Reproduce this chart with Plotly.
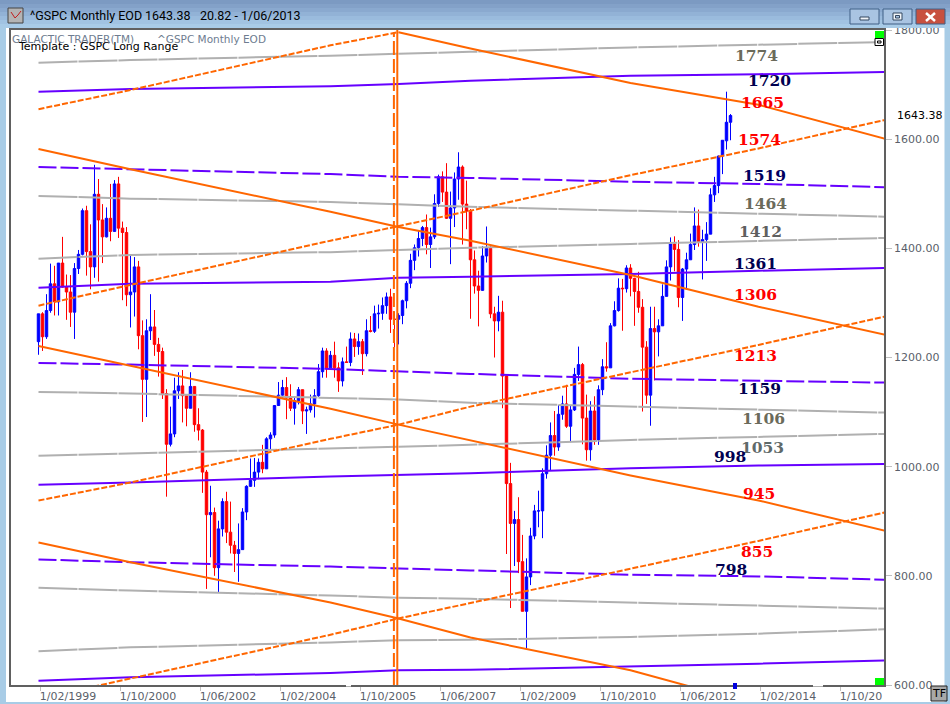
import plotly.graph_objects as go

W, H = 950, 704
L, T, R, B = 11, 30, 884, 685

# ---------- price bars (monthly, Jan 1999 .. Jun 2013) ----------
month_index = list(range(174))
opens = [1229,1280,1238,1286,1335,1302,1373,1329,1320,1283,1363,1389,
 1469,1394,1366,1499,1452,1421,1455,1431,1518,1437,1429,1315,
 1320,1366,1240,1160,1249,1256,1224,1211,1134,1041,1060,1139,
 1148,1130,1107,1147,1077,1067,990,912,916,815,886,936,
 880,856,841,848,917,964,975,990,1008,996,1051,1058,
 1112,1131,1145,1126,1107,1121,1141,1102,1104,1115,1130,1174,
 1212,1181,1204,1181,1157,1192,1191,1234,1220,1229,1207,1249,
 1248,1280,1281,1295,1311,1270,1270,1277,1304,1336,1378,1401,
 1418,1438,1407,1421,1482,1531,1503,1455,1474,1527,1549,1481,
 1468,1379,1331,1323,1386,1400,1280,1267,1283,1166,969,896,
 903,826,735,798,873,919,919,987,1021,1057,1036,1096,
 1115,1074,1104,1169,1187,1089,1031,1102,1049,1141,1183,1181,
 1258,1286,1327,1326,1364,1345,1321,1292,1219,1131,1253,1247,
 1258,1312,1366,1408,1398,1310,1362,1379,1407,1441,1412,1416,
 1426,1498,1515,1569,1597,1631]
highs = [1280,1283,1316,1372,1368,1373,1421,1352,1351,1373,1397,1473,
 1478,1444,1553,1527,1481,1475,1518,1525,1531,1449,1439,1389,
 1384,1377,1268,1270,1316,1287,1236,1218,1142,1110,1163,1173,
 1177,1131,1173,1147,1107,1069,994,965,925,901,942,954,
 936,864,896,924,966,1015,1016,1015,1040,1054,1063,1112,
 1155,1159,1164,1151,1128,1146,1141,1110,1132,1142,1188,1218,
 1217,1212,1229,1191,1200,1220,1246,1245,1244,1234,1270,1276,
 1295,1297,1310,1319,1326,1284,1281,1306,1340,1390,1407,1432,
 1441,1462,1438,1499,1535,1541,1556,1504,1539,1576,1552,1524,
 1472,1396,1359,1404,1440,1405,1293,1313,1304,1167,1007,919,
 944,875,832,888,930,956,997,1039,1081,1102,1113,1130,
 1150,1113,1181,1220,1190,1132,1120,1129,1149,1197,1228,1263,
 1303,1345,1344,1369,1371,1346,1357,1307,1230,1293,1293,1270,
 1334,1378,1420,1422,1415,1364,1392,1427,1475,1471,1434,1448,
 1510,1531,1570,1598,1687,1646]
lows = [1205,1212,1234,1282,1277,1277,1328,1269,1256,1234,1353,1387,
 1350,1325,1346,1339,1373,1420,1413,1431,1419,1305,1294,1255,
 1275,1215,1082,1091,1232,1203,1165,1124,945,1037,1054,1124,
 1081,1074,1107,1064,1048,952,776,834,800,769,872,860,
 841,807,789,848,902,963,963,977,988,996,1031,1053,
 1112,1124,1087,1102,1077,1114,1078,1060,1099,1090,1128,1163,
 1163,1181,1163,1137,1147,1191,1184,1201,1205,1168,1202,1246,
 1245,1253,1269,1280,1245,1219,1224,1261,1290,1327,1360,1385,
 1404,1389,1364,1417,1476,1485,1454,1371,1439,1489,1407,1435,
 1271,1317,1257,1324,1374,1272,1200,1248,1107,840,741,818,
 805,735,667,783,867,889,869,978,993,1020,1029,1086,
 1071,1045,1102,1157,1041,1011,1011,1040,1040,1131,1174,1181,
 1257,1284,1249,1319,1312,1258,1282,1101,1115,1075,1158,1202,
 1258,1312,1341,1358,1292,1267,1325,1379,1397,1403,1343,1377,
 1426,1485,1501,1536,1581,1598]
closes = [1280,1238,1286,1335,1302,1373,1329,1320,1283,1363,1389,1469,
 1394,1366,1499,1452,1421,1455,1431,1518,1437,1429,1315,1320,
 1366,1240,1160,1249,1256,1224,1211,1134,1041,1060,1139,1148,
 1130,1107,1147,1077,1067,990,912,916,815,886,936,880,
 856,841,848,917,964,975,990,1008,996,1051,1058,1112,
 1131,1145,1126,1107,1121,1141,1102,1104,1115,1130,1174,1212,
 1181,1204,1181,1157,1192,1191,1234,1220,1229,1207,1249,1248,
 1280,1281,1295,1311,1270,1270,1277,1304,1336,1378,1401,1418,
 1438,1407,1421,1482,1531,1503,1455,1474,1527,1549,1481,1468,
 1379,1331,1323,1386,1400,1280,1267,1283,1166,969,896,903,
 826,735,798,873,919,919,987,1021,1057,1036,1096,1115,
 1074,1104,1169,1187,1089,1031,1102,1049,1141,1183,1181,1258,
 1286,1327,1326,1364,1345,1321,1292,1219,1131,1253,1247,1258,
 1312,1366,1408,1398,1310,1362,1379,1407,1441,1412,1416,1426,
 1498,1515,1569,1598,1631,1643.38]

# ---------- overlay lines: values at these months ----------
line_months = [0, 23, 73, 90, 108, 148, 180, 211.5]

orange_up_1 = [1655, 1690, 1772, 1796, None, None, None, None]
orange_up_2 = [1295, 1333, 1414, 1441, 1469, 1534, 1583, 1635]
orange_up_3 = [938, 971, 1051, 1077, 1110, 1173, 1223, 1275]
orange_up_4 = [575, 612, 692, 722, 750, 813, 864, 916]
orange_down_1 = [None, None, None, 1796, 1766, 1703, 1663, 1601]
orange_down_2 = [1582, 1545, 1467, 1439, 1414, 1351, 1293, 1242]
orange_down_3 = [1221, 1185, 1106, 1077, 1048, 984, 938, 883]
orange_down_4 = [861, 825, 751, 722, 687, 627, 563, None]
purple_1 = [1687, 1692, 1697, 1701, 1707, 1716, 1719, 1723]
purple_2 = [1549, 1545, 1536, 1531, 1529, 1522, 1518, 1512]
purple_3 = [1328, 1335, 1339, 1346, 1348, 1353, 1359, 1364]
purple_4 = [1190, 1187, 1179, 1174, 1170, 1161, 1157, 1154]
purple_5 = [967, 971, 982, 985, 988, 997, 1002, 1005]
purple_6 = [830, 825, 817, 813, 810, 802, 799, 793]
purple_7 = [608, 614, 622, 627, 628, 634, 639, 645]
gray_1 = [1740, 1745, 1753, 1756, 1760, 1768, 1773, 1778]
gray_2 = [1496, 1491, 1485, 1481, 1476, 1469, 1463, 1458]
gray_3 = [1381, 1388, 1393, 1397, 1401, 1408, 1414, 1419]
gray_4 = [1137, 1134, 1126, 1123, 1117, 1110, 1104, 1099]
gray_5 = [1020, 1024, 1033, 1037, 1040, 1049, 1055, 1060]
gray_6 = [778, 773, 764, 760, 758, 751, 746, 740]
gray_7 = [662, 669, 678, 682, 683, 688, 694, 702]

event_month = 89.7

# ---------- level labels ----------
level_text = ["1774","1720","1665","1574","1519","1464","1412","1361","1306",
              "1213","1159","1106","1053","998","945","855","798"]
level_month = [179.6,182.8,181,180.3,181.6,181.8,180.6,179.3,179.3,
               179.3,180.3,181.3,181,172.8,180,179.6,173]
level_price = [1754,1707,1668,1599,1533,1483,1430,1372,1315,
               1203,1143,1088,1035,1018,951,844,811]
level_color = ["#6B6B5B","#000050","#FF0000","#FF0000","#000060","#6B6B5B","#5F6060",
               "#000050","#FF0000","#FF0000","#000050","#6B6B5B","#5F6A6A",
               "#000050","#FF0000","#FF0000","#000050"]

# ---------- axes ----------
tick_labels = ["1/02/1999","1/10/2000","1/06/2002","1/02/2004","1/10/2005","1/06/2007",
               "1/02/2009","1/10/2010","1/06/2012","1/02/2014","1/10/20"]
tick_months = [0.5 + 20 * k for k in range(len(tick_labels))]
price_ticks = [600, 800, 1000, 1200, 1400, 1600, 1800]

ORANGE, PURPLE, GRAY = "#FF6600", "#6600FF", "#B0B0B0"

fig = go.Figure()
fig.add_trace(go.Candlestick(
    x=month_index, open=opens, high=highs, low=lows, close=closes,
    increasing=dict(line=dict(color="#0000FF", width=1), fillcolor="#0000FF"),
    decreasing=dict(line=dict(color="#FF0000", width=1), fillcolor="#FF0000"),
    whiskerwidth=0, showlegend=False, hoverinfo="skip"))

def add_line(vals, color, dash="solid"):
    fig.add_trace(go.Scatter(x=line_months, y=vals, mode="lines", showlegend=False,
                             hoverinfo="skip", line=dict(color=color, width=2, dash=dash)))

for v in (gray_1, gray_2, gray_3, gray_4, gray_5, gray_6, gray_7):
    add_line(v, GRAY, "39px,1px")
for v in (purple_1, purple_3, purple_5, purple_7):
    add_line(v, PURPLE)
for v in (purple_2, purple_4, purple_6):
    add_line(v, PURPLE, "18px,4px")
for v in (orange_up_1, orange_up_2, orange_up_3, orange_up_4):
    add_line(v, ORANGE, "6px,2px")
for v in (orange_down_1, orange_down_2, orange_down_3, orange_down_4):
    add_line(v, ORANGE)

fig.add_trace(go.Scatter(x=[event_month - 0.85] * 2, y=[600, 1796], mode="lines", showlegend=False,
                         hoverinfo="skip", line=dict(color=ORANGE, width=2, dash="14px,4px")))
fig.add_trace(go.Scatter(x=[event_month] * 2, y=[600, 1800], mode="lines", showlegend=False,
                         hoverinfo="skip", line=dict(color=ORANGE, width=2)))

# ---------- window chrome (pixel helpers) ----------
def px(x): return (x - L) / (R - L)
def py(y): return 1 - (y - T) / (B - T)

def rect(x0, y0, x1, y1, fill, line=None, lw=1, layer="above"):
    return dict(type="rect", xref="paper", yref="paper", x0=px(x0), x1=px(x1), y0=py(y0), y1=py(y1),
                fillcolor=fill, line=dict(color=line or fill, width=lw if line else 0), layer=layer)

shapes = []
bar_cols = ["#7C9AC2","#83A1C8","#8AA9CF","#92B2D6","#9ABBDD","#A1C3E2","#A8CBE7"]
for k, c in enumerate(bar_cols):
    shapes.append(rect(0, k * 4, W, (k + 1) * 4, c))
shapes += [rect(0, 27, 6, H, "#A8CCE6"), rect(944.5, 27, W, H, "#A8CCE6"), rect(0, 702, W, H, "#A8CCE6")]
# icon
shapes.append(rect(8, 8, 23, 23, "#B4B4B4", "#444444"))
shapes.append(dict(type="path", xref="paper", yref="paper", layer="above",
                   path=f"M {px(11)} {py(12)} L {px(15)} {py(18)} L {px(18)} {py(15)} L {px(21)} {py(11)}",
                   line=dict(color="#C02020", width=1)))
# window buttons
for x0, x1, c in ((850, 879, "#A9C4E2"), (883, 912, "#A9C4E2"), (916, 945, "#C8503F")):
    shapes.append(rect(x0, 9, x1, 24, c, "#3F5F85"))
shapes.append(rect(860, 17, 869, 20, "#F2F6FA", "#33465E"))
shapes.append(rect(893, 13, 902, 20, "#F2F6FA", "#33465E"))
shapes.append(rect(895.5, 15.5, 899.5, 18, "#A9C4E2", "#33465E"))
for a, b in ((926, 935), (935, 926)):
    shapes.append(dict(type="line", xref="paper", yref="paper", layer="above",
                       x0=px(a), x1=px(b), y0=py(13), y1=py(21), line=dict(color="#FFFFFF", width=2.5)))
# markers on the chart frame
shapes += [rect(875, 31, 884, 38, "#00FF00"), rect(875, 38.5, 883.5, 45.5, "#FFFFFF", "#000000"),
           rect(877.5, 41, 881, 43, "#FFFFFF", "#000000"), rect(875, 678, 884, 685, "#00FF00"),
           rect(733, 683, 737, 689, "#0000DD"),
           rect(346, 683.5, 351, 686.5, "#FFFFFF"), rect(813, 683.5, 823, 686.5, "#FFFFFF"),
           rect(931, 686, 947, 701, "#A8A8A8", "#222222")]

def note(text, x, y, size, color="#000000", family="DejaVu Sans", anchor="left", bold=False):
    return dict(text=text, xref="paper", yref="paper", x=px(x), y=py(y), xanchor=anchor, yanchor="middle",
                showarrow=False, font=dict(family=family, size=size, color=color, weight=700 if bold else 400),
                borderpad=0, bgcolor="rgba(0,0,0,0)")

annotations = [
    note("^GSPC Monthly EOD", 29, 16, 12.5, family="Roboto"),
    note("1643.38", 144, 16, 12.5, family="Roboto"),
    note("20.82 - 1/06/2013", 199, 16, 12.5, family="Roboto"),
    note("GALACTIC TRADER(TM)", 11, 39, 10.5, "#6E7C90"),
    note("^GSPC Monthly EOD", 156, 39, 10.5, "#6E7C90"),
    note("Template : GSPC Long Range", 17, 47, 11),
    note("1643.38", 896, 116, 11),
    note("TF", 939, 693.5, 11, anchor="center"),
]
for t, m, p, c in zip(level_text, level_month, level_price, level_color):
    annotations.append(dict(text=t, x=m, y=p, xref="x", yref="y", showarrow=False, xanchor="center",
                            yanchor="middle", borderpad=0,
                            font=dict(family="DejaVu Serif", size=15.5, color=c, weight=700)))

fig.update_layout(
    width=W, height=H, margin=dict(l=L, r=W - R, t=T, b=H - B), autosize=False,
    paper_bgcolor="#FFFFFF", plot_bgcolor="#FFFFFF", showlegend=False,
    boxgap=0.22, boxgroupgap=0.22,
    shapes=shapes, annotations=annotations,
    font=dict(family="DejaVu Sans", size=11, color="#5A5F6A"),
    xaxis=dict(range=[(L - 38.5) / 4, (R - 38.5) / 4], rangeslider=dict(visible=False), automargin=False,
               tickmode="array", tickvals=tick_months, ticktext=tick_labels,
               ticks="outside", ticklen=4, tickcolor="#C0C0C0", showgrid=False, zeroline=False,
               ticklabelposition="outside right", ticklabelshift=-2, showline=True, mirror=True,
               linecolor="#606060", linewidth=1.5, tickfont=dict(size=11, color="#5A5F6A")),
    yaxis=dict(range=[600, 1800], side="right", tickmode="array", tickvals=price_ticks, automargin=False,
               tickformat=".2f", ticks="outside", ticklen=6, tickcolor="#C0C0C0",
               showgrid=False, zeroline=False, showline=True, mirror=True,
               linecolor="#606060", linewidth=1.5, tickfont=dict(size=11, color="#5A5F6A")),
)
fig.write_html("out.html", config=dict(displayModeBar=False),
               post_script="document.body.style.margin='0';document.body.style.overflow='hidden';")
